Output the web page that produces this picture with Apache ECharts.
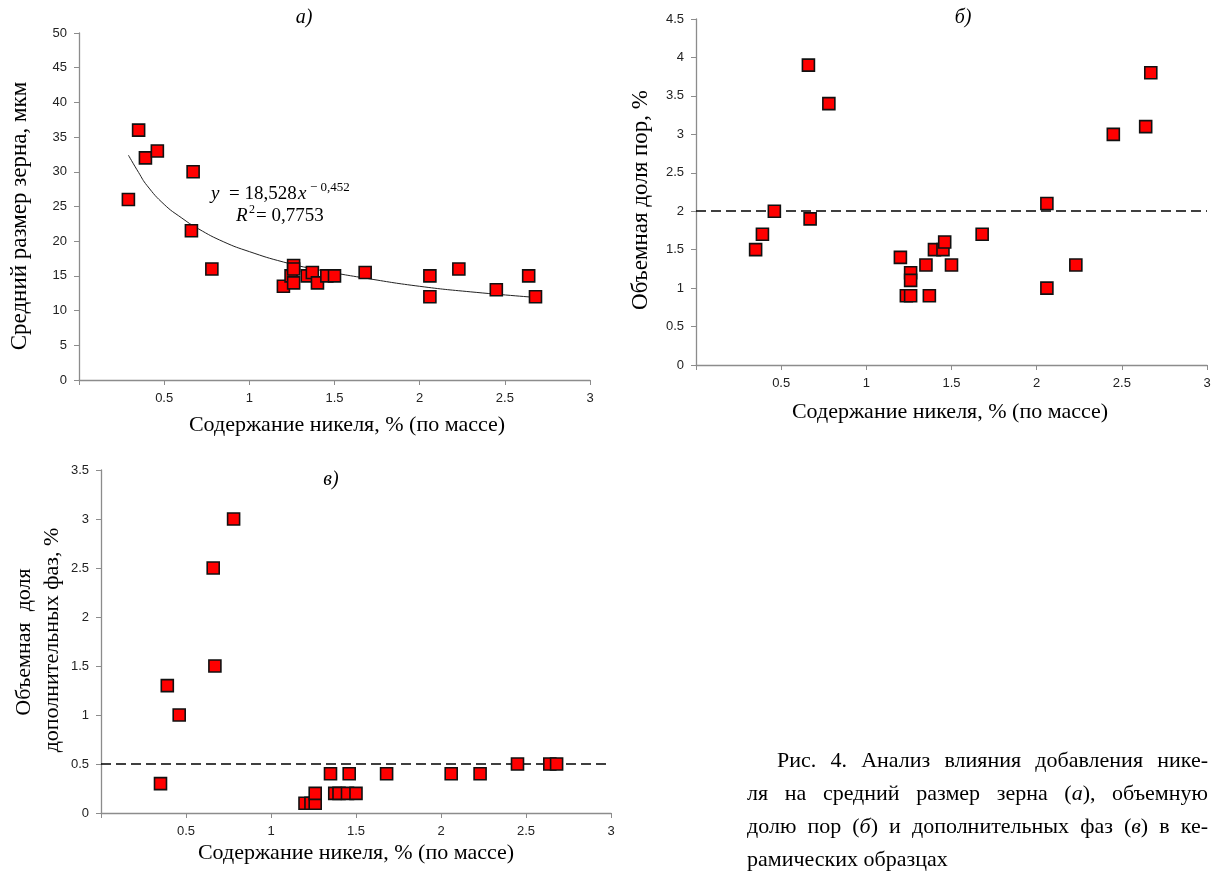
<!DOCTYPE html>
<html>
<head>
<meta charset="utf-8">
<script src="https://cdn.jsdelivr.net/npm/echarts@6/dist/echarts.min.js"></script>
<style>
  html, body { margin: 0; padding: 0; background: #fff; }
  #chart { width: 1215px; height: 871px; }
</style>
</head>
<body>
<div id="chart"></div>
<script>
// (а) средний размер зерна
var niA = [0.29, 0.35, 0.39, 0.46, 0.67, 0.66, 0.78, 1.20, 1.245, 1.26, 1.26, 1.26, 1.34, 1.37, 1.40, 1.455, 1.50, 1.68, 2.06, 2.06, 2.23, 2.45, 2.64, 2.68]
var grainA = [26, 36, 32, 33, 30, 21.5, 16, 13.5, 15, 16.5, 16, 14, 15, 15.5, 14, 15, 15, 15.5, 15, 12, 16, 13, 15, 12]
var trendX = [0.29, 0.35, 0.4, 0.5, 0.6, 0.7, 0.85, 1.0, 1.2, 1.4, 1.7, 2.0, 2.3, 2.68]
var trendY = [32.4, 29.9, 28.0, 25.3, 23.4, 21.8, 19.9, 18.5, 17.0, 15.9, 14.6, 13.5, 12.7, 11.9]
// (б) объемная доля пор
var niB = [0.35, 0.39, 0.46, 0.66, 0.67, 0.78, 1.20, 1.235, 1.26, 1.26, 1.26, 1.35, 1.37, 1.40, 1.45, 1.46, 1.50, 1.68, 2.06, 2.06, 2.23, 2.45, 2.64, 2.67]
var poresB = [1.5, 1.7, 2.0, 3.9, 1.9, 3.4, 1.4, 0.9, 0.9, 1.2, 1.1, 1.3, 0.9, 1.5, 1.5, 1.6, 1.3, 1.7, 2.1, 1.0, 1.3, 3.0, 3.1, 3.8]
var levelB = 2
// (в) объемная доля дополнительных фаз
var niC = [0.35, 0.39, 0.46, 0.66, 0.67, 0.78, 1.20, 1.235, 1.26, 1.26, 1.35, 1.375, 1.40, 1.45, 1.46, 1.50, 1.68, 2.06, 2.23, 2.45, 2.64, 2.68]
var phaseC = [0.3, 1.3, 1.0, 2.5, 1.5, 3.0, 0.1, 0.1, 0.1, 0.2, 0.4, 0.2, 0.2, 0.2, 0.4, 0.2, 0.4, 0.4, 0.4, 0.5, 0.5, 0.5]
var levelC = 0.5

var xTitle = 'Содержание никеля, % (по массе)'
var caption = [
  'Рис. 4. Анализ влияния добавления нике-',
  'ля на средний размер зерна (а), объемную',
  'долю пор (б) и дополнительных фаз (в) в ке-',
  'рамических образцах'
]

function pairs (xs, ys) {
  return xs.map(function (x, i) { return [x, ys[i]] })
}

var serif = 'Liberation Serif'
var axisGray = '#8c8c8c'

function xAx (gi) {
  return {
    type: 'value', gridIndex: gi, min: 0, max: 3, interval: 0.5,
    axisLine: { onZero: false, lineStyle: { color: axisGray, width: 1.3 } },
    axisTick: { show: true, length: 5, lineStyle: { color: axisGray } },
    splitLine: { show: false },
    axisLabel: {
      margin: 12, color: '#222', fontSize: 13, fontFamily: 'Liberation Sans',
      formatter: function (v) { return v === 0 ? '' : String(v) }
    }
  }
}
function yAx (gi, max, step) {
  return {
    type: 'value', gridIndex: gi, min: 0, max: max, interval: step,
    axisLine: { show: true, lineStyle: { color: axisGray, width: 1.3 } },
    axisTick: { show: true, length: 5, lineStyle: { color: axisGray } },
    splitLine: { show: false },
    axisLabel: { margin: 12, color: '#222', fontSize: 13, fontFamily: 'Liberation Sans' }
  }
}

var marker = {
  type: 'scatter', symbol: 'rect', symbolSize: 12, z: 5,
  itemStyle: { color: '#ff0000', borderColor: '#111', borderWidth: 1.6, opacity: 1 }
}
function pts (gi, data) {
  return Object.assign({}, marker, { xAxisIndex: gi, yAxisIndex: gi, data: data })
}
function dashed (gi, level) {
  return {
    type: 'scatter', xAxisIndex: gi, yAxisIndex: gi, data: [], z: 2,
    markLine: {
      silent: true, symbol: 'none', label: { show: false },
      lineStyle: { color: '#000', width: 1.6, type: [10, 5] },
      data: [[{ coord: [0, level] }, { coord: [3, level] }]]
    }
  }
}

function txt (x, y, s, opt) {
  return {
    type: 'text', x: x, y: y, rotation: (opt && opt.rot) || 0,
    style: Object.assign({
      text: s, fill: '#000', font: '22px "' + serif + '"',
      align: 'center', verticalAlign: 'middle'
    }, (opt && opt.style) || {})
  }
}
var it = function (size) { return { font: 'italic ' + size + 'px "' + serif + '"' } }

var graphics = [
  txt(304, 18, 'а)', { style: it(20) }),
  txt(963, 18, 'б)', { style: it(20) }),
  txt(331, 480, 'в)', { style: it(20) }),
  txt(347, 425, xTitle),
  txt(950, 412, xTitle),
  txt(356, 853, xTitle),
  txt(20, 216, 'Средний размер зерна, мкм', { rot: Math.PI / 2, style: { font: '23px "' + serif + '"' } }),
  txt(641, 200, 'Объемная доля пор, %', { rot: Math.PI / 2, style: { font: '23px "' + serif + '"' } }),
  txt(24, 642, 'Объемная  доля', { rot: Math.PI / 2 }),
  txt(52, 640, 'дополнительных фаз, %', { rot: Math.PI / 2 }),
  // уравнение тренда
  txt(211, 194, 'y', { style: Object.assign(it(19), { align: 'left' }) }),
  txt(229, 194, '= 18,528', { style: { font: '19px "' + serif + '"', align: 'left' } }),
  txt(298, 194, 'x', { style: Object.assign(it(19), { align: 'left' }) }),
  txt(310, 188, '− 0,452', { style: { font: '13px "' + serif + '"', align: 'left' } }),
  txt(236, 216, 'R', { style: Object.assign(it(19), { align: 'left' }) }),
  txt(249, 210, '2', { style: { font: '12px "' + serif + '"', align: 'left' } }),
  txt(256, 216, '= 0,7753', { style: { font: '19px "' + serif + '"', align: 'left' } })
]

// подпись: выравнивание по ширине, буквы (а), (б), (в) курсивом
var capFont = '22px "' + serif + '"'
var capItalic = 'italic 22px "' + serif + '"'
var ctx = document.createElement('canvas').getContext('2d')
function wordWidth (w) {
  var m = w.match(/^(.*\()([абв])(\).*)$/)
  if (!m) { ctx.font = capFont; return ctx.measureText(w).width }
  ctx.font = capFont
  var a = ctx.measureText(m[1]).width + ctx.measureText(m[3]).width
  ctx.font = capItalic
  return a + ctx.measureText(m[2]).width
}
function wordText (w) {
  return w.replace(/\(([абв])\)/, '({i|$1})')
}
var capRight = 1208
caption.forEach(function (line, li) {
  var words = line.split(' ')
  var x0 = li === 0 ? 777 : 747
  var y = 761 + li * 33
  var widths = words.map(wordWidth)
  var total = widths.reduce(function (a, b) { return a + b }, 0)
  var gap = li === caption.length - 1 ? 5.5 : (capRight - x0 - total) / (words.length - 1)
  var x = x0
  words.forEach(function (w, wi) {
    graphics.push({
      type: 'text', x: x, y: y,
      style: {
        text: wordText(w), fill: '#000', font: capFont, align: 'left', verticalAlign: 'middle',
        rich: { i: { font: capItalic, fill: '#000' } }
      }
    })
    x += widths[wi] + gap
  })
})

var chart = echarts.init(document.getElementById('chart'))
chart.setOption({
  backgroundColor: '#fff',
  animation: false,
  grid: [
    { left: 79, top: 33, width: 511, height: 347 },
    { left: 696, top: 19, width: 511, height: 346 },
    { left: 101, top: 470, width: 510, height: 343 }
  ],
  xAxis: [xAx(0), xAx(1), xAx(2)],
  yAxis: [yAx(0, 50, 5), yAx(1, 4.5, 0.5), yAx(2, 3.5, 0.5)],
  series: [
    {
      type: 'line', xAxisIndex: 0, yAxisIndex: 0, smooth: true, showSymbol: false, z: 3,
      lineStyle: { color: '#222', width: 1 }, data: pairs(trendX, trendY)
    },
    pts(0, pairs(niA, grainA)),
    dashed(1, levelB),
    pts(1, pairs(niB, poresB)),
    dashed(2, levelC),
    pts(2, pairs(niC, phaseC))
  ],
  graphic: graphics
})
</script>
</body>
</html>
